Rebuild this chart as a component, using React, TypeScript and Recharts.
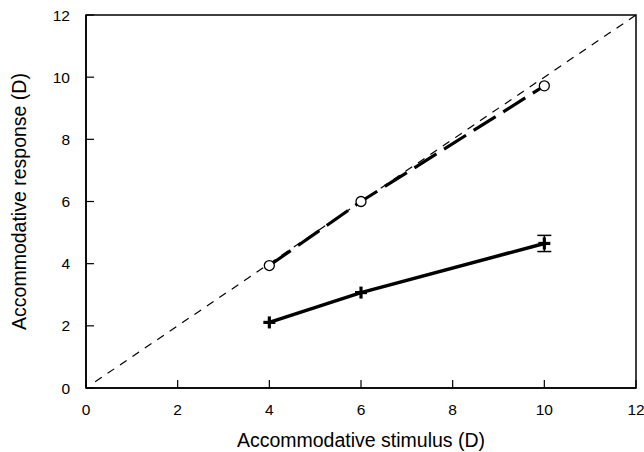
import React from "react";
import {
  ComposedChart,
  Line,
  XAxis,
  YAxis,
  ReferenceLine,
  ReferenceArea,
  ErrorBar,
} from "recharts";

const stimulus = [4, 6, 10];
const openResponse = [3.94, 6.0, 9.72];
const crossResponse = [2.11, 3.07, 4.65];
const crossError = [0, 0, 0.26];
const ticks = [0, 2, 4, 6, 8, 10, 12];

const rows = stimulus.map((x, i) => ({
  x,
  open: openResponse[i],
  cross: crossResponse[i],
  err: crossError[i],
}));

const font = "'Liberation Sans', Arial, Helvetica, sans-serif";

function OpenDot(props: any) {
  const { cx, cy } = props;
  if (cx == null || cy == null) return null;
  return <circle cx={cx} cy={cy} r={5} fill="#fff" stroke="#000" strokeWidth={1.3} />;
}

function PlusDot(props: any) {
  const { cx, cy } = props;
  if (cx == null || cy == null) return null;
  return (
    <g stroke="#000" strokeWidth={3.2}>
      <line x1={cx - 6} y1={cy} x2={cx + 6} y2={cy} />
      <line x1={cx} y1={cy - 6} x2={cx} y2={cy + 6} />
    </g>
  );
}

export default function App() {
  return (
    <div style={{ position: "absolute", left: 0, top: 0, background: "#fff" }}>
      <ComposedChart
        width={644}
        height={452}
        data={rows}
        margin={{ top: 15, right: 8, left: 0, bottom: 0 }}
        style={{ fontFamily: font }}
      >
        <XAxis
          type="number"
          dataKey="x"
          domain={[0, 12]}
          ticks={ticks}
          interval={0}
          height={64}
          tickSize={-8}
          tickMargin={24}
          axisLine={{ stroke: "#000", strokeWidth: 1.5 }}
          tickLine={{ stroke: "#000", strokeWidth: 1.2 }}
          tick={{ fill: "#000", fontSize: 15.5, fontFamily: font }}
          label={{
            value: "Accommodative stimulus (D)",
            position: "center",
            dy: 20,
            fill: "#000",
            fontSize: 19.5,
            fontFamily: font,
          }}
        />
        <YAxis
          type="number"
          domain={[0, 12]}
          ticks={ticks}
          interval={0}
          width={86}
          tickSize={-8}
          tickMargin={24}
          axisLine={{ stroke: "#000", strokeWidth: 1.5 }}
          tickLine={{ stroke: "#000", strokeWidth: 1.2 }}
          tick={{ fill: "#000", fontSize: 15.5, fontFamily: font }}
          label={{
            value: "Accommodative response (D)",
            angle: -90,
            position: "center",
            dx: -24,
            fill: "#000",
            fontSize: 19.5,
            fontFamily: font,
          }}
        />
        <ReferenceArea
          x1={0}
          x2={12}
          y1={0}
          y2={12}
          fill="none"
          stroke="#000"
          strokeWidth={1.5}
          ifOverflow="visible"
        />
        <ReferenceLine
          segment={[
            { x: 0.2, y: 0.2 },
            { x: 12, y: 12 },
          ]}
          stroke="#000"
          strokeWidth={1.2}
          strokeDasharray="8 7"
        />
        <Line
          dataKey="open"
          stroke="#000"
          strokeWidth={3.2}
          strokeDasharray="26 9"
          dot={<OpenDot />}
          activeDot={false}
          isAnimationActive={false}
        />
        <Line
          dataKey="cross"
          stroke="#000"
          strokeWidth={3.5}
          dot={<PlusDot />}
          activeDot={false}
          isAnimationActive={false}
        >
          <ErrorBar dataKey="err" width={7} stroke="#000" strokeWidth={1.5} />
        </Line>
      </ComposedChart>
    </div>
  );
}
